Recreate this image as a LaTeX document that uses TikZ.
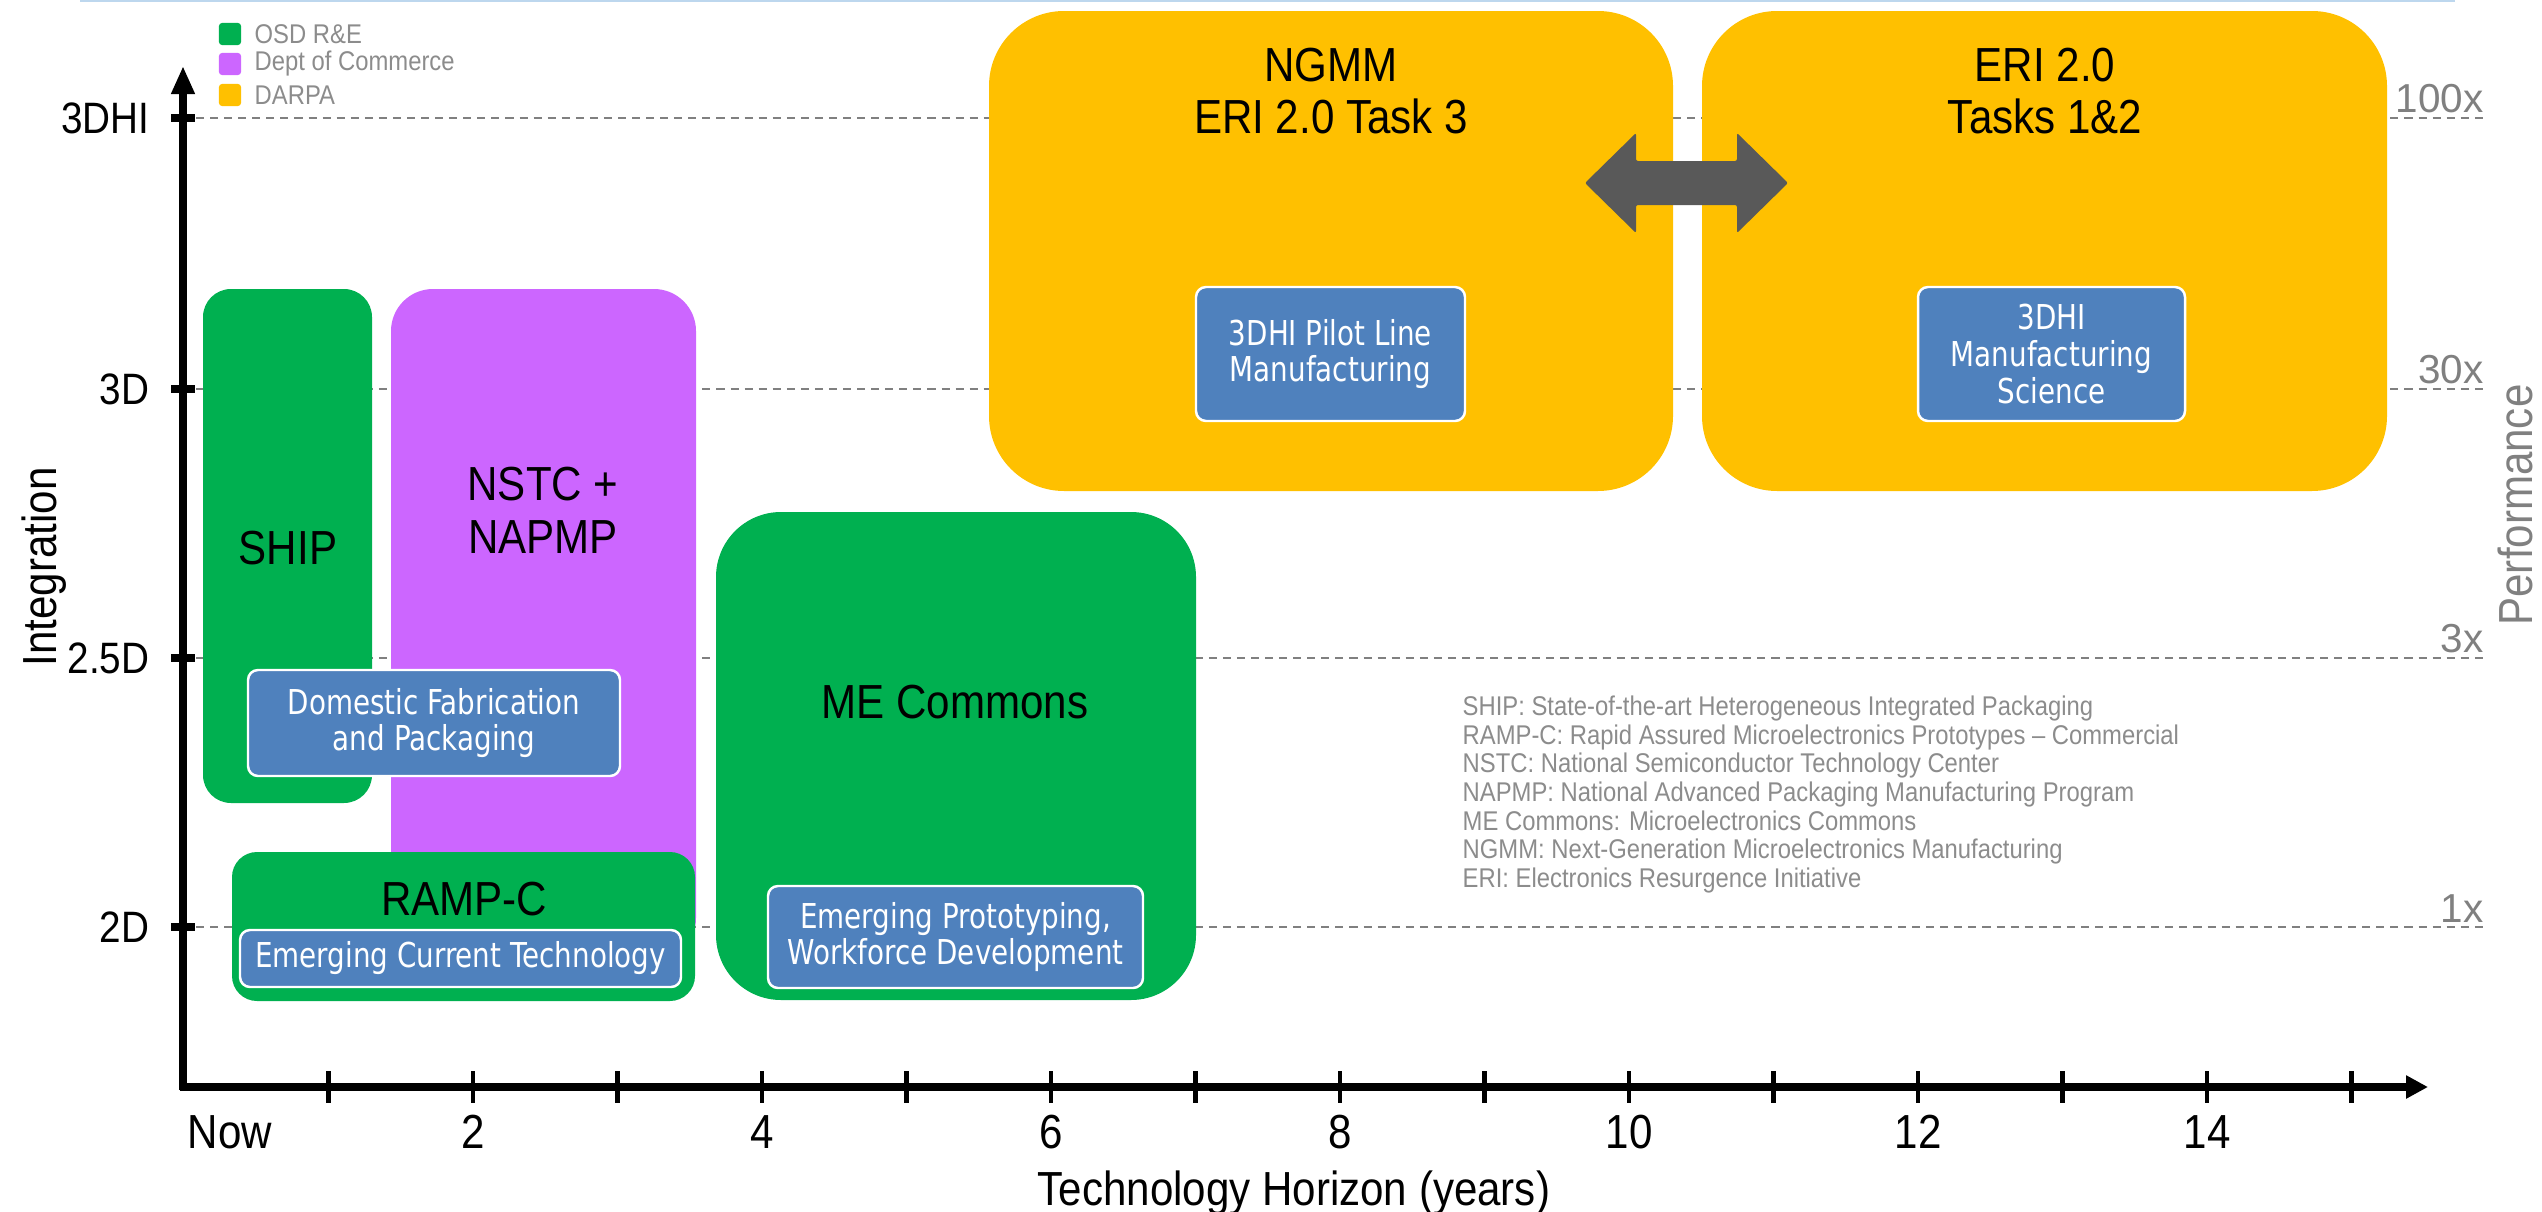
\documentclass[tikz,border=0pt]{standalone}
\usepackage{fontspec}
\setmainfont{Liberation Sans}
\newfontfamily\condf[FakeStretch=0.88]{Liberation Sans}
\newfontfamily\tahf[FakeStretch=0.81]{DejaVu Sans}
\usetikzlibrary{arrows.meta}
\definecolor{osdgreen}{HTML}{00B050}
\definecolor{docpurple}{HTML}{CC66FF}
\definecolor{darpayellow}{HTML}{FFC000}
\definecolor{taskblue}{HTML}{4F81BD}
\definecolor{arrowgray}{HTML}{595959}
\definecolor{linegray}{HTML}{808080}
\definecolor{textgray}{HTML}{8C8C8C}
\definecolor{topblue}{HTML}{BDD7EE}
\begin{document}
\begin{tikzpicture}[x=0.01cm,y=-0.01cm,
  sz/.style 2 args={minimum width=#1*0.01cm, minimum height=#2*0.01cm},
  region/.style={draw=none, inner sep=0pt, outer sep=0pt},
  task/.style={draw=white, line width=0.7pt, fill=taskblue, rounded corners=0.1cm, text=white, align=center, inner sep=0pt, font=\tahf\fontsize{9.75}{10.4}\selectfont},
  biglabel/.style={align=center, inner sep=0pt, font=\condf\fontsize{13.6}{15}\selectfont},
  axlabel/.style={inner sep=0pt, font=\condf\fontsize{13.6}{15}\selectfont},
  ylab/.style={inner sep=0pt, anchor=east, font=\condf\fontsize{12.5}{14}\selectfont},
  rlabel/.style={inner sep=0pt, anchor=south east, text=linegray, font=\fontsize{11.5}{13}\selectfont},
  legsq/.style={inner sep=0pt, minimum size=0.22cm, rounded corners=0.03cm},
  legtext/.style={inner sep=0pt, anchor=west, text=textgray, font=\condf\fontsize{7.7}{9}\selectfont},
  abbr/.style={inner sep=0pt, anchor=base west, text=textgray, font=\condf\fontsize{7.7}{9}\selectfont},
  gridline/.style={linegray, line width=0.6pt, dash pattern=on 2.3pt off 1.7pt},
  axisline/.style={black, line width=2pt}
]
\useasboundingbox (0,0) rectangle (2542,1212);

% top rule
\draw[topblue, line width=0.6pt] (80,1) -- (2455,1);

% dashed level lines
\foreach \yy in {118,389,658,927} {
  \draw[gridline] (196,\yy) -- (2484,\yy);
}

% regions
\node[region, fill=docpurple, rounded corners=0.42cm, sz={305}{671}] (nstc) at (543.5,624.5) {};
\node[region, fill=osdgreen, rounded corners=0.28cm, sz={169}{514}] (ship) at (287.5,546) {};
\node[region, fill=osdgreen, rounded corners=0.25cm, sz={463}{149}] (ramp) at (463.5,926.5) {};
\node[region, fill=osdgreen, rounded corners=0.65cm, sz={480}{488}] (me) at (956,756) {};
\node[region, fill=darpayellow, rounded corners=0.75cm, sz={684}{480}] (ngmm) at (1331,251) {};
\node[region, fill=darpayellow, rounded corners=0.75cm, sz={685}{480}] (eri) at (2044.5,251) {};

% double arrow between NGMM and ERI 2.0
\fill[arrowgray, rounded corners=0.02cm] (1585,183) -- (1636,133) -- (1636,161) -- (1737,161) -- (1737,133) -- (1788,183) -- (1737,233) -- (1737,205) -- (1636,205) -- (1636,233) -- cycle;

% region labels
\node[biglabel] (shipl) at (288,548) {SHIP};
\node[biglabel] (nstcl) at (543,510) {NSTC +\\NAPMP};
\node[biglabel] (rampl) at (464,899) {RAMP-C};
\node[biglabel] (mel) at (955,702) {ME Commons};
\node[biglabel] (ngmml) at (1331,91) {NGMM\\ERI 2.0 Task 3};
\node[biglabel] (eril) at (2045,91) {ERI 2.0\\Tasks 1\&2};

% task boxes
\node[task, sz={372}{106}] (domfab) at (434,723) {Domestic Fabrication\\and Packaging};
\node[task, sz={441}{57}] (ect) at (460.5,958.5) {Emerging Current Technology};
\node[task, sz={375}{102}] (epwd) at (955.5,937) {Emerging Prototyping,\\Workforce Development};
\node[task, sz={269}{134}] (pilot) at (1330.5,354) {3DHI Pilot Line\\Manufacturing};
\node[task, sz={267}{134}] (sci) at (2051.5,354) {3DHI\\Manufacturing\\Science};

% axes
\draw[axisline, -{Triangle[length=0.28cm,width=0.22cm]}] (183,1090) -- (183,66);
\draw[axisline, -{Triangle[length=0.22cm,width=0.22cm]}] (180,1087) -- (2428,1087);
\foreach \n in {1,...,15} {
  \draw[black, line width=1.3pt] ({184+144.5*\n},1071) -- ({184+144.5*\n},1103);
}
\foreach \yy in {118,389,658,927} {
  \draw[black, line width=2.5pt] (171,\yy) -- (195,\yy);
}

% y labels
\node[ylab] (y3dhi) at (150,118) {3DHI};
\node[ylab] (y3d) at (150,389) {3D};
\node[ylab] (y25d) at (150,658) {2.5D};
\node[ylab] (y2d) at (150,927) {2D};

% right labels
\node[rlabel] (p100) at (2484,114) {100x};
\node[rlabel] (p30) at (2484,385) {30x};
\node[rlabel] (p3) at (2484,654) {3x};
\node[rlabel] (p1) at (2484,923) {1x};

% x labels
\node[axlabel, anchor=west] (xnow) at (187,1132) {Now};
\foreach \n in {2,4,...,14} {
  \node[axlabel] (x\n) at ({184+144.5*\n},1132) {\n};
}
\node[axlabel, anchor=base] (xtitle) at (1294,1205) {Technology Horizon (years)};
\node[axlabel, anchor=base, rotate=90] (ytitle) at (56,567) {Integration};
\node[axlabel, text=linegray, rotate=90] (perf) at (2515,505) {Performance};

% legend
\node[legsq, fill=osdgreen] (lg1) at (230,34) {};
\node[legsq, fill=docpurple] (lg2) at (230,64) {};
\node[legsq, fill=darpayellow] (lg3) at (230,95) {};
\node[legtext] (lt1) at (254,34) {OSD R\&E};
\node[legtext] (lt2) at (254,64) {Dept of Commerce};
\node[legtext] (lt3) at (254,95) {DARPA};

% abbreviations
\node[abbr] (a1) at (1462,715) {SHIP: State-of-the-art Heterogeneous Integrated Packaging};
\node[abbr] (a2) at (1462,744) {RAMP-C: Rapid Assured Microelectronics Prototypes – Commercial};
\node[abbr] (a3) at (1462,772) {NSTC: National Semiconductor Technology Center};
\node[abbr] (a4) at (1462,801) {NAPMP: National Advanced Packaging Manufacturing Program};
\node[abbr] (a5) at (1462,830) {ME Commons: Microelectronics Commons};
\node[abbr] (a6) at (1462,858) {NGMM: Next-Generation Microelectronics Manufacturing};
\node[abbr] (a7) at (1462,887) {ERI: Electronics Resurgence Initiative};
\end{tikzpicture}
\end{document}
